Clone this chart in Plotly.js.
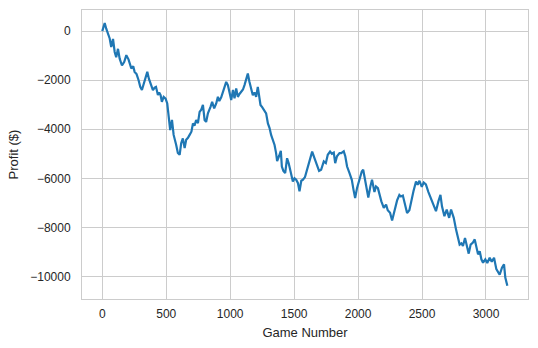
<!DOCTYPE html>
<html>
<head>
<meta charset="utf-8">
<script src="https://cdn.plot.ly/plotly-3.0.1.min.js"></script>
<style>html,body{margin:0;padding:0;background:#fff;}#chart{width:538px;height:348px;}</style>
</head>
<body>
<div id="chart"></div>
<script>
// Game numbers (x) and cumulative profit (y)
const gameNumbers = [0,19,31,45,58,70,84,97,109,123,136,154,172,188,205,227,242,253,268,284,297,310,323,336,352,365,378,396,410,420,435,445,456,466,480,495,508,519,531,545,558,578,591,605,617,630,644,656,670,683,697,709,721,734,748,761,774,787,800,812,826,847,859,875,891,904,915,930,943,956,969,982,995,1008,1022,1034,1047,1060,1073,1086,1100,1112,1125,1138,1150,1164,1177,1190,1203,1216,1227,1237,1250,1263,1281,1295,1308,1320,1334,1347,1359,1367,1383,1396,1404,1416,1430,1445,1458,1472,1490,1503,1516,1530,1542,1556,1568,1585,1602,1620,1641,1659,1680,1695,1711,1732,1748,1763,1781,1795,1810,1821,1835,1855,1868,1888,1900,1914,1933,1951,1964,1977,1992,2011,2029,2040,2052,2066,2080,2096,2109,2128,2140,2155,2170,2182,2201,2219,2232,2250,2266,2284,2305,2323,2335,2350,2362,2383,2401,2414,2433,2453,2466,2480,2498,2513,2530,2550,2570,2591,2609,2628,2644,2656,2675,2693,2712,2727,2748,2766,2781,2794,2808,2820,2836,2852,2865,2880,2898,2912,2925,2938,2951,2964,2977,2995,3010,3029,3045,3063,3081,3094,3107,3125,3141,3151,3160,3167];
const profit = [0,330,100,-100,-300,-650,-320,-850,-1060,-720,-1120,-1400,-1250,-980,-1150,-1520,-1430,-1660,-1750,-2000,-2270,-2400,-2150,-1930,-1660,-1950,-2130,-2400,-2300,-2270,-2600,-2500,-2610,-2880,-2680,-2750,-2950,-3490,-4030,-3620,-4230,-4640,-4970,-5040,-4570,-4370,-4770,-4430,-4350,-4230,-4100,-3760,-3850,-3620,-3750,-3290,-3200,-3010,-3620,-3700,-3350,-3080,-2880,-3150,-2950,-2680,-2850,-2700,-2470,-2270,-2070,-2200,-2470,-2810,-2400,-2740,-2340,-2680,-2560,-2480,-2380,-2200,-2000,-1730,-2050,-2340,-2610,-2500,-2680,-2270,-2600,-3010,-3100,-3220,-3350,-3760,-3950,-4230,-4430,-4640,-4970,-5300,-5080,-4880,-5520,-5700,-5790,-5180,-5400,-5790,-6130,-6000,-6060,-6200,-6530,-6100,-6060,-5950,-5650,-5310,-4910,-5180,-5520,-5700,-5650,-5310,-5380,-5040,-4910,-5000,-4950,-5380,-5100,-4970,-4970,-4900,-5100,-5520,-5790,-6060,-6460,-6800,-6390,-6060,-5720,-5650,-6000,-6330,-6780,-6330,-6060,-6560,-6330,-6400,-6730,-6940,-7200,-7070,-7300,-7400,-7720,-7300,-6900,-6680,-6740,-6700,-7000,-7410,-7300,-6940,-6530,-6130,-6260,-6100,-6350,-6170,-6250,-6560,-6850,-7140,-7340,-6940,-6670,-7140,-7545,-7275,-7610,-7270,-7610,-8090,-8490,-8700,-8650,-8760,-8430,-8730,-9070,-8700,-8620,-8490,-8800,-9100,-8970,-9300,-9440,-9300,-9450,-9234,-9400,-9234,-9700,-9842,-9930,-9639,-9505,-10047,-10200,-10380];
const xTicks = [0,500,1000,1500,2000,2500,3000];
const yTicks = [0,-2000,-4000,-6000,-8000,-10000];
const yTickLabels = ['0','\u22122000','\u22124000','\u22126000','\u22128000','\u221210000'];

const font = {family: '"Liberation Sans", Arial, sans-serif', color: '#262626'};
const trace = {
  x: gameNumbers, y: profit, type: 'scatter', mode: 'lines',
  line: {color: '#1f77b4', width: 2.2}, hoverinfo: 'skip'
};
const axisBase = {
  showgrid: true, gridcolor: '#cccccc', gridwidth: 1,
  zeroline: false, showline: true, mirror: true, linecolor: '#cccccc', linewidth: 1,
  ticks: '', tickfont: Object.assign({size: 12}, font)
};
const layout = {
  width: 538, height: 348,
  margin: {l: 82, r: 10, t: 10, b: 49, pad: 0},
  paper_bgcolor: '#ffffff', plot_bgcolor: '#ffffff',
  showlegend: false,
  font: font,
  xaxis: Object.assign({}, axisBase, {
    range: [-158.5, 3328.5], tickvals: xTicks, ticktext: xTicks.map(String),
    ticklabelstandoff: 4,
    title: {text: 'Game Number', font: Object.assign({size: 13}, font), standoff: 7}
  }),
  yaxis: Object.assign({}, axisBase, {
    range: [-10919, 862], tickvals: yTicks, ticktext: yTickLabels,
    ticklabelstandoff: 8,
    title: {text: 'Profit ($)', font: Object.assign({size: 13}, font), standoff: 8}
  })
};
Plotly.newPlot('chart', [trace], layout, {staticPlot: true, displayModeBar: false});
</script>
</body>
</html>
